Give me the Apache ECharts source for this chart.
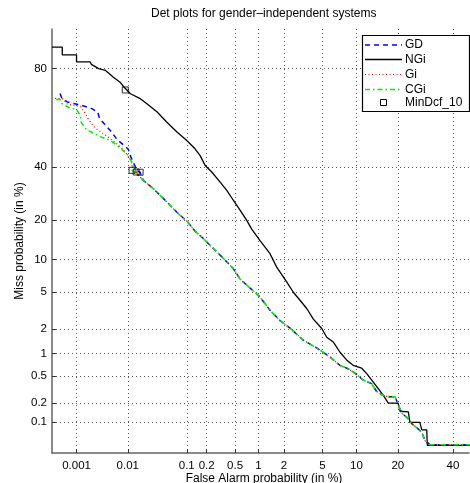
<!DOCTYPE html>
<html><head><meta charset="utf-8">
<script src="https://cdn.jsdelivr.net/npm/echarts@6/dist/echarts.min.js"></script>
<style>html,body{margin:0;padding:0;background:#fff}#c{width:470px;height:483px}</style>
</head><body><div id="c"></div>
<script>
// ---- tick labels (percent) ----
const xTicks = [0.001, 0.01, 0.1, 0.2, 0.5, 1, 2, 5, 10, 20, 40];
const xTickLabels = ['0.001', '0.01', '0.1', '0.2', '0.5', '1', '2', '5', '10', '20', '40'];
const yTicks = [0.1, 0.2, 0.5, 1, 2, 5, 10, 20, 40, 80];
const yTickLabels = ['0.1', '0.2', '0.5', '1', '2', '5', '10', '20', '40', '80'];

// ---- series (false alarm %, miss %) ----
const gdFA = [0.00045,0.00049,0.00064,0.0013,0.0021,0.0027,0.0029,0.0037,0.0047,0.0064,0.009,0.0102,0.0115,0.0131,0.0148,0.0167,0.019,0.028,0.040,0.054,0.073,0.101,0.134,0.177,0.248,0.343,0.470,0.583,0.785,1.04,1.38,1.8,2.33,3.2,4.4,5.9,7.25,8.5,9.7,11.3,13.1,14.3,16,17.7,19.2,20.1,21.2,22.8,24.4,26.1,27.9,29.0,30.9,47];
const gdMiss = [71.4,69.5,68.1,66.7,65.3,63.9,61.3,58.7,56.1,52,49.1,47.8,44.2,41.2,38.6,37.8,34.4,31.2,27.8,24.9,22.1,19.6,16.7,14.8,12.4,10.3,8.4,6.7,5.5,4.5,3.25,2.5,2.05,1.48,1.18,0.9,0.7,0.63,0.55,0.44,0.39,0.3,0.26,0.25,0.25,0.19,0.14,0.12,0.095,0.082,0.068,0.05,0.042,0.042];

const ngiFA = [0.0003,0.0005,0.0005,0.001,0.001,0.0019,0.002,0.0028,0.0038,0.0044,0.0054,0.0072,0.0085,0.0112,0.0168,0.022,0.033,0.048,0.07,0.1,0.134,0.16,0.19,0.237,0.312,0.386,0.474,0.582,0.712,0.824,1.04,1.38,1.65,1.97,2.14,2.53,2.98,3.5,4.08,4.93,5.49,6.3,7.25,8.3,9.4,11.0,12.05,13.5,14.7,16.0,17.3,20.1,20.7,23.3,23.8,27.2,27.9,29.7,29.9,47];
const ngiMiss = [86,86,84,84,82,82,81.3,80,79.4,78.5,77.2,75.5,73.8,71.3,69.4,67.4,64,59.7,55.4,51.7,48,45,40.7,37.9,33.7,30.4,26.7,23.2,19.9,17.3,14.3,11.2,8.6,7.0,6.3,5.0,4.15,3.4,2.6,2.03,1.6,1.4,1.04,0.82,0.7,0.64,0.54,0.41,0.33,0.26,0.2,0.2,0.15,0.147,0.1,0.1,0.075,0.075,0.041,0.041];

const giFA = [0.00035,0.00052,0.00064,0.0012,0.0015,0.0017,0.0024,0.0037,0.0058,0.0086,0.0112,0.0131,0.0142,0.019,0.028,0.040,0.054,0.073,0.101,0.134,0.177,0.248,0.343,0.470,0.583,0.785,1.04,1.38,1.8,2.33,3.2,4.4,5.9,7.25,8.5,9.7,11.3,13.1,14.3,16,17.7,19.2,20.1,21.2,22.8,24.4,26.1,27.9,29.0,30.9,47];
const giMiss = [69.5,69.3,67.2,66.3,63.6,61.3,57.2,54.2,50.9,47.4,43,39.4,37.9,34.4,31.2,27.8,24.9,22.1,19.6,16.7,14.8,12.4,10.3,8.4,6.7,5.5,4.5,3.25,2.5,2.05,1.48,1.18,0.9,0.7,0.63,0.55,0.44,0.39,0.3,0.26,0.25,0.25,0.19,0.14,0.12,0.095,0.082,0.068,0.05,0.042,0.042];

const cgiFA = [0.00037,0.00045,0.00049,0.00074,0.001,0.0012,0.00125,0.0016,0.003,0.0047,0.0075,0.0102,0.012,0.012,0.0148,0.019,0.028,0.040,0.054,0.073,0.101,0.134,0.177,0.248,0.343,0.470,0.583,0.785,1.04,1.38,1.8,2.33,3.2,4.4,5.9,7.25,8.5,9.7,11.3,13.1,14.3,16,17.7,19.2,20.1,21.2,22.8,24.4,26.1,27.9,29.0,30.9,47];
const cgiMiss = [69.1,69.1,67.5,65.5,65.1,62.6,59.6,56.5,53.4,51.7,48.2,45.1,42,38.6,37,34.4,31.2,27.8,24.9,22.1,19.6,16.7,14.8,12.4,10.3,8.4,6.7,5.5,4.5,3.25,2.5,2.05,1.48,1.18,0.9,0.7,0.63,0.55,0.44,0.39,0.3,0.26,0.25,0.25,0.19,0.14,0.12,0.095,0.082,0.068,0.05,0.042,0.042];

const minDcfFA = [0.009, 0.0167, 0.0142, 0.012];
const minDcfMiss = [72.7, 37.8, 37.9, 38.6];

const seriesNames = ['GD', 'NGi', 'Gi', 'CGi', 'MinDcf_10'];

// ---- normal deviate (probit) scale ----
function probit(p) {
  const a = [-3.969683028665376e+01, 2.209460984245205e+02, -2.759285104469687e+02, 1.383577518672690e+02, -3.066479806614716e+01, 2.506628277459239e+00];
  const b = [-5.447609879822406e+01, 1.615858368580409e+02, -1.556989798598866e+02, 6.680131188771972e+01, -1.328068155288572e+01];
  const c = [-7.784894002430293e-03, -3.223964580411365e-01, -2.400758277161838e+00, -2.549732539343734e+00, 4.374664141464968e+00, 2.938163982698783e+00];
  const d = [7.784695709041462e-03, 3.224671290700398e-01, 2.445134137142996e+00, 3.754408361507560e+00];
  const plow = 0.02425, phigh = 1 - plow;
  let q, r;
  if (p < plow) {
    q = Math.sqrt(-2 * Math.log(p));
    return (((((c[0]*q+c[1])*q+c[2])*q+c[3])*q+c[4])*q+c[5]) / ((((d[0]*q+d[1])*q+d[2])*q+d[3])*q+1);
  } else if (p <= phigh) {
    q = p - 0.5; r = q*q;
    return (((((a[0]*r+a[1])*r+a[2])*r+a[3])*r+a[4])*r+a[5])*q / (((((b[0]*r+b[1])*r+b[2])*r+b[3])*r+b[4])*r+1);
  } else {
    q = Math.sqrt(-2 * Math.log(1 - p));
    return -(((((c[0]*q+c[1])*q+c[2])*q+c[3])*q+c[4])*q+c[5]) / ((((d[0]*q+d[1])*q+d[2])*q+d[3])*q+1);
  }
}
const pz = v => probit(v / 100);
const pairs = (xs, ys) => xs.map((x, i) => [pz(x), pz(ys[i])]);
const xTickVals = xTicks.map(pz);
const yTickVals = yTicks.map(pz);
function labelFor(vals, labels) {
  return v => { for (let i = 0; i < vals.length; i++) if (Math.abs(vals[i] - v) < 1e-6) return labels[i]; return ''; };
}

const FONT = "'Liberation Sans', Arial, Helvetica, sans-serif";
const chart = echarts.init(document.getElementById('c'), null, {renderer: 'canvas'});

const axisCommon = {
  type: 'value',
  nameLocation: 'middle',
  nameMoveOverlap: false,
  axisLine: {show: true, onZero: false, lineStyle: {color: '#666', width: 1.5}},
  splitLine: {show: true, lineStyle: {color: '#555', type: [1, 3], width: 1}},
};

chart.setOption({
  animation: false,
  backgroundColor: '#fff',
  title: {
    text: 'Det plots for gender\u2013independent systems',
    left: 151, top: 8, padding: 0,
    textStyle: {fontSize: 12, fontWeight: 'normal', color: '#000', fontFamily: FONT}
  },
  grid: {left: 52, right: 1, top: 29, bottom: 30, containLabel: false, outerBoundsMode: 'none'},
  xAxis: Object.assign({}, axisCommon, {
    min: pz(0.0003), max: pz(46.7),
    name: 'False Alarm probability (in %)',
    nameGap: 20,
    nameTextStyle: {fontSize: 12, color: '#000', fontFamily: FONT, padding: [0, 0, 0, 7]},
    axisTick: {show: true, inside: true, length: 4, customValues: xTickVals, lineStyle: {color: '#333'}},
    axisLabel: {customValues: xTickVals, formatter: labelFor(xTickVals, xTickLabels), fontSize: 11.5, color: '#000', margin: 7, fontFamily: FONT}
  }),
  yAxis: Object.assign({}, axisCommon, {
    min: pz(0.03), max: pz(90),
    name: 'Miss probability (in %)',
    nameGap: 26,
    nameTextStyle: {fontSize: 12, color: '#000', fontFamily: FONT},
    axisTick: {show: true, inside: true, length: 4, customValues: yTickVals, lineStyle: {color: '#333'}},
    axisLabel: {customValues: yTickVals, formatter: labelFor(yTickVals, yTickLabels), fontSize: 11.5, color: '#000', margin: 5, fontFamily: FONT}
  }),
  series: [
    {name: seriesNames[0], type: 'line', data: pairs(gdFA, gdMiss), showSymbol: false, symbol: 'none',
     lineStyle: {color: '#0000ff', width: 1.5, type: [5, 4]}},
    {name: seriesNames[1], type: 'line', data: pairs(ngiFA, ngiMiss), showSymbol: false, symbol: 'none',
     lineStyle: {color: '#000', width: 1.3}},
    {name: seriesNames[2], type: 'line', data: pairs(giFA, giMiss), showSymbol: false, symbol: 'none',
     lineStyle: {color: '#ff0000', width: 1.2, type: [1, 2.5]}},
    {name: seriesNames[3], type: 'line', data: pairs(cgiFA, cgiMiss), showSymbol: false, symbol: 'none',
     lineStyle: {color: '#00ee00', width: 1.5, type: [5, 3, 1.5, 3]}},
    {name: seriesNames[4], type: 'scatter', data: pairs(minDcfFA, minDcfMiss), symbol: 'rect', symbolSize: 6,
     itemStyle: {color: 'rgba(0,0,0,0)', borderColor: '#000', borderWidth: 1}, z: 5}
  ],
  graphic: [
    {type: 'rect', z: 100, shape: {x: 362.5, y: 35.5, width: 107, height: 76},
     style: {fill: '#fff', stroke: '#000', lineWidth: 1.2}},
    {type: 'line', z: 101, shape: {x1: 365, y1: 45, x2: 402, y2: 45}, style: {stroke: '#0000ff', lineWidth: 1.5, lineDash: [5, 4]}},
    {type: 'line', z: 101, shape: {x1: 365, y1: 59.5, x2: 402, y2: 59.5}, style: {stroke: '#000', lineWidth: 1.3}},
    {type: 'line', z: 101, shape: {x1: 365, y1: 74.5, x2: 402, y2: 74.5}, style: {stroke: '#ff0000', lineWidth: 1.2, lineDash: [1, 2.5]}},
    {type: 'line', z: 101, shape: {x1: 365, y1: 89.5, x2: 402, y2: 89.5}, style: {stroke: '#00ee00', lineWidth: 1.5, lineDash: [5, 3, 1.5, 3]}},
    {type: 'rect', z: 101, shape: {x: 380.5, y: 99.5, width: 6, height: 6}, style: {fill: 'none', stroke: '#000', lineWidth: 1}},
    {type: 'text', z: 101, x: 405, y: 45, style: {text: seriesNames[0], fontSize: 12, fontFamily: FONT, fill: '#000', verticalAlign: 'middle'}},
    {type: 'text', z: 101, x: 405, y: 59.5, style: {text: seriesNames[1], fontSize: 12, fontFamily: FONT, fill: '#000', verticalAlign: 'middle'}},
    {type: 'text', z: 101, x: 405, y: 74.5, style: {text: seriesNames[2], fontSize: 12, fontFamily: FONT, fill: '#000', verticalAlign: 'middle'}},
    {type: 'text', z: 101, x: 405, y: 89.5, style: {text: seriesNames[3], fontSize: 12, fontFamily: FONT, fill: '#000', verticalAlign: 'middle'}},
    {type: 'text', z: 101, x: 405, y: 102.5, style: {text: seriesNames[4], fontSize: 12, fontFamily: FONT, fill: '#000', verticalAlign: 'middle'}}
  ]
});
</script>
</body></html>
